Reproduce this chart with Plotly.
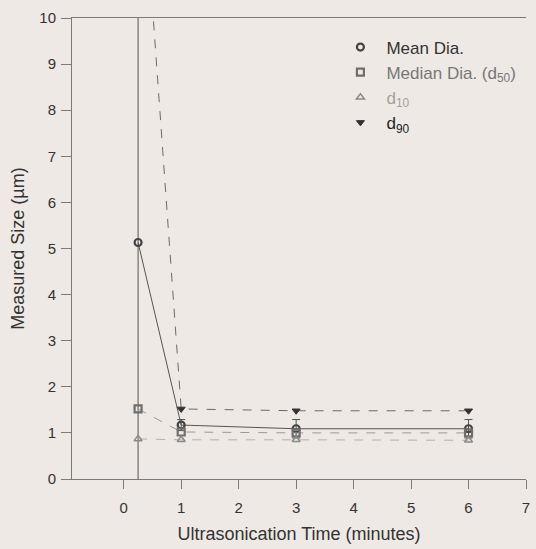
import plotly.graph_objects as go

# Ultrasonication time (minutes)
time_min = [0.25, 1, 3, 6]

# Measured particle sizes (µm)
mean_dia = [5.13, 1.17, 1.09, 1.09]
mean_err = [8.0, 0.12, 0.2, 0.2]
median_d50 = [1.52, 1.02, 1.0, 1.0]
d10 = [0.87, 0.85, 0.85, 0.84]
d90 = [14.6, 1.52, 1.48, 1.48]

x_ticks = [0, 1, 2, 3, 4, 5, 6, 7]
y_ticks = [0, 1, 2, 3, 4, 5, 6, 7, 8, 9, 10]

FONT = "Liberation Sans, Arial, sans-serif"
BG = "#efe9e5"

fig = go.Figure()

series = [
    dict(name="Mean Dia.", y=mean_dia, color="#444444", line_color="#555555",
         dash="solid", symbol="circle-open", lw=2.2, txt="#333333", err=mean_err),
    dict(name="Median Dia. (d<sub>50</sub>)", y=median_d50, color="#6e6e6e",
         line_color="#9a9a9a", dash="dash", symbol="square-open", lw=2.2,
         txt="#777777", err=None),
    dict(name="d<sub>10</sub>", y=d10, color="#8a8a8a", line_color="#b0b0b0",
         dash="dash", symbol="triangle-up-open", lw=1.5, txt="#a0a0a0", err=None),
    dict(name="d<sub>90</sub>", y=d90, color="#333333", line_color="#6a6a6a",
         dash="dash", symbol="triangle-down", lw=1, txt="#222222", err=None),
]

for s in series:
    tr = dict(
        x=time_min, y=s["y"], mode="lines+markers", showlegend=False,
        line=dict(color=s["line_color"], width=1, dash=s["dash"]),
        marker=dict(symbol=s["symbol"], size=7, color=s["color"],
                    line=dict(color=s["color"], width=s["lw"])),
    )
    if s["err"] is not None:
        tr["error_y"] = dict(type="data", array=s["err"], visible=True,
                             color="#555555", thickness=1, width=4)
    fig.add_trace(go.Scatter(**tr))

# Marker-only legend entries
for s in series:
    fig.add_trace(go.Scatter(
        x=[None], y=[None], mode="markers",
        name=f'<span style="color:{s["txt"]}">{s["name"]}</span>',
        marker=dict(symbol=s["symbol"], size=7, color=s["color"],
                    line=dict(color=s["color"], width=s["lw"])),
    ))

axis_common = dict(
    showgrid=False, zeroline=False, showline=True, linecolor="#7a7a7a",
    linewidth=1, ticks="outside", tickcolor="#7a7a7a", tickwidth=1,
    tickfont=dict(family=FONT, size=15, color="#333333"),
)

fig.update_xaxes(
    range=[-0.9, 7], tickvals=x_ticks, ticklen=9, mirror=True,
    ticklabelstandoff=6,
    title=dict(text="Ultrasonication Time (minutes)",
               font=dict(family=FONT, size=18, color="#333333"), standoff=12),
    **axis_common,
)
fig.update_yaxes(
    range=[0, 10], tickvals=y_ticks, ticklen=10, ticklabelstandoff=2,
    title=dict(text="Measured Size (µm)",
               font=dict(family=FONT, size=18, color="#333333"), standoff=10),
    **axis_common,
)

fig.update_layout(
    width=536, height=549,
    margin=dict(l=72, r=6, t=18, b=70),
    paper_bgcolor=BG, plot_bgcolor=BG,
    legend=dict(x=0.578, y=0.975, xanchor="left", yanchor="top",
                bgcolor="rgba(0,0,0,0)", borderwidth=0,
                font=dict(family=FONT, size=17), itemwidth=42,
                tracegroupgap=0),
)

fig.write_html("out.html")
